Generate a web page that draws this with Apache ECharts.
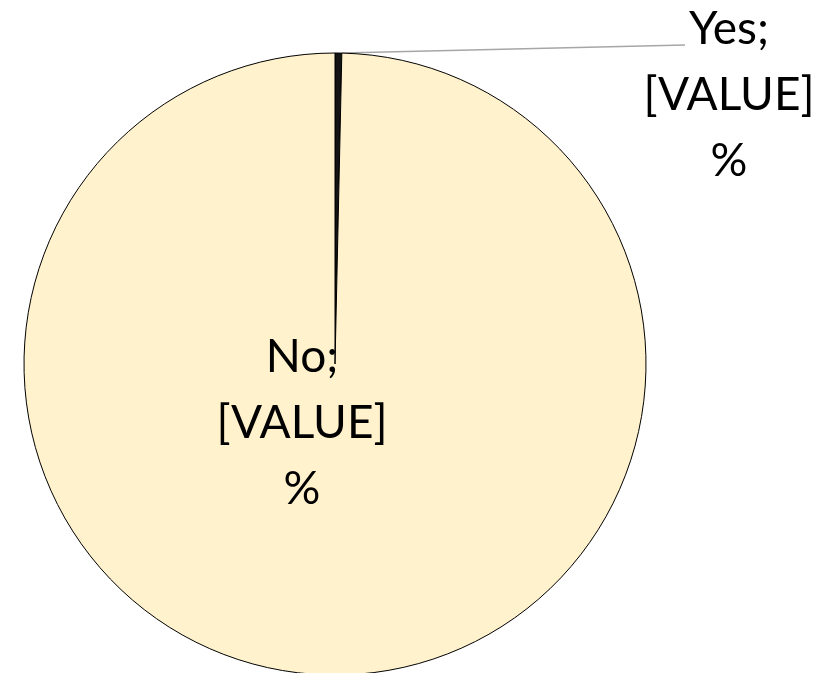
<!DOCTYPE html>
<html>
<head>
<meta charset="utf-8">
<script src="https://cdn.jsdelivr.net/npm/echarts@6/dist/echarts.min.js"></script>
<style>
  html, body { margin: 0; padding: 0; background: #fff; }
  #main { width: 821px; height: 673px; }
</style>
</head>
<body>
<div id="main"></div>
<script>
// slices, clockwise from 12 o'clock
var names = ['Yes', 'No'];
var values = [0.35, 99.65];
var colors = ['#141414', '#FFF2CC'];

var chart = echarts.init(document.getElementById('main'));

var data = names.map(function (n, i) {
  return { name: n, value: values[i], itemStyle: { color: colors[i] } };
});

var option = {
  backgroundColor: '#ffffff',
  animation: false,
  series: [{
    type: 'pie',
    center: [335, 364],
    radius: [0, 311],
    startAngle: 90,
    clockwise: true,
    avoidLabelOverlap: false,
    itemStyle: { borderColor: '#000', borderWidth: 1 },
    label: {
      show: true,
      formatter: '{b};\n[VALUE]\n%',
      fontFamily: 'Lato, "Open Sans", sans-serif',
      fontSize: 46,
      lineHeight: 66,
      color: '#000',
      align: 'center'
    },
    labelLine: {
      show: true,
      lineStyle: { color: '#A6A6A6', width: 1.5 }
    },
    // label spots as in the original slide
    labelLayout: function (params) {
      if (params.dataIndex === 0) {
        return {
          x: 729, y: 95, align: 'center', verticalAlign: 'middle',
          labelLinePoints: [[342, 53], [685, 45], [685, 45]]
        };
      }
      return { x: 302, y: 423, align: 'center', verticalAlign: 'middle' };
    },
    data: data
  }]
};

chart.setOption(option);
</script>
</body>
</html>
